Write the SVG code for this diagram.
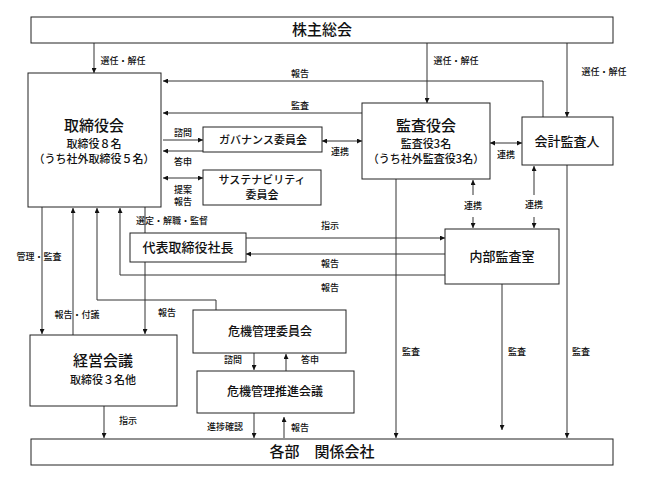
<svg xmlns="http://www.w3.org/2000/svg" width="645" height="483" viewBox="0 0 645 483">
<defs>
<marker id="ah" viewBox="0 0 10 10" refX="10" refY="5" markerWidth="5" markerHeight="5" orient="auto-start-reverse" markerUnits="userSpaceOnUse">
<path d="M0,0 L10,5 L0,10 z" fill="#111"/>
</marker>
<style>
.b{fill:#fff;stroke:#222;stroke-width:1}
.l{fill:none;stroke:#333;stroke-width:1}
.a{fill:none;stroke:#333;stroke-width:1;marker-end:url(#ah)}
.d{fill:none;stroke:#333;stroke-width:1;marker-start:url(#ah);marker-end:url(#ah)}
text{font-family:"Noto Sans CJK JP","Noto Sans CJK SC",sans-serif;fill:#111;text-anchor:middle;font-weight:500}
.t{font-size:15px}
.m{font-size:13px}
.s{font-size:11px}
.n{font-size:12px}
.lb{font-size:9px}
</style>
</defs>
<g id="connectors">
<path class="a" d="M94,43 V73"/>
<path class="a" d="M427,43 V103"/>
<path class="a" d="M567,43 V117"/>
<path class="a" d="M543,117 V81 H163"/>
<path class="a" d="M362,113 H163"/>
<path class="a" d="M163,140 H203"/>
<path class="a" d="M203,151 H163"/>
<path class="d" d="M163,178 H203"/>
<path class="d" d="M322,141 H362"/>
<path class="d" d="M490,143 H522"/>
<path class="a" d="M473,195 V180"/>
<path class="a" d="M473,217 V228"/>
<path class="a" d="M534,195 V166"/>
<path class="a" d="M534,217 V228"/>
<path class="a" d="M246,238 H445"/>
<path class="a" d="M445,254 H246"/>
<path class="a" d="M445,275 H120 V208"/>
<path class="a" d="M42,207 V334"/>
<path class="a" d="M73,335 V208"/>
<path class="a" d="M216,310 V300 H97 V208"/>
<path class="a" d="M145,207 V334"/>
<path class="a" d="M104,406 V438"/>
<path class="a" d="M254,353 V370"/>
<path class="a" d="M286,371 V354"/>
<path class="a" d="M254,413 V438"/>
<path class="a" d="M284,438 V417"/>
<path class="a" d="M396,179 V438"/>
<path class="a" d="M502,284 V430"/>
<path class="a" d="M567,165 V438"/>
</g>
<g id="kabunushi"><rect class="b" x="31" y="17" width="582" height="26"/><text class="t" x="322" y="35">株主総会</text></g>
<g id="torishimariyakukai"><rect class="b" x="28" y="73" width="133" height="134"/>
<text class="t" x="94" y="131">取締役会</text>
<text class="s" x="94" y="148">取締役８名</text>
<text class="s" x="94" y="163">（うち社外取締役５名）</text></g>
<g id="governance"><rect class="b" x="203" y="127" width="119" height="25"/><text class="s" x="263" y="144">ガバナンス委員会</text></g>
<g id="sustainability"><rect class="b" x="203" y="170" width="118" height="35"/><text class="s" x="262" y="184">サステナビリティ</text><text class="s" x="262" y="199">委員会</text></g>
<g id="kansayakukai"><rect class="b" x="362" y="103" width="128" height="76"/>
<text class="t" x="426" y="131">監査役会</text>
<text class="s" x="426" y="148">監査役3名</text>
<text class="s" x="426" y="163">（うち社外監査役3名）</text></g>
<g id="kaikei"><rect class="b" x="522" y="117" width="91" height="48"/><text class="m" x="567" y="146">会計監査人</text></g>
<g id="daihyo"><rect class="b" x="130" y="233" width="116" height="29"/><text class="m" x="188" y="252">代表取締役社長</text></g>
<g id="naibu"><rect class="b" x="445" y="229" width="114" height="55"/><text class="m" x="502" y="261">内部監査室</text></g>
<g id="keiei"><rect class="b" x="30" y="335" width="147" height="71"/>
<text class="t" x="103" y="366">経営会議</text>
<text class="s" x="103" y="384">取締役３名他</text></g>
<g id="kiki"><rect class="b" x="193" y="310" width="153" height="43"/><text class="n" x="270" y="336">危機管理委員会</text></g>
<g id="kikisuishin"><rect class="b" x="197" y="371" width="157" height="42"/><text class="n" x="275" y="396">危機管理推進会議</text></g>
<g id="kakubu"><rect class="b" x="31" y="439" width="582" height="26"/><text class="t" x="322" y="457">各部　関係会社</text></g>
<g id="labels">
<text class="lb" x="123" y="64">選任・解任</text>
<text class="lb" x="456" y="64">選任・解任</text>
<text class="lb" x="604" y="75">選任・解任</text>
<text class="lb" x="300" y="77">報告</text>
<text class="lb" x="300" y="109">監査</text>
<text class="lb" x="183" y="136">諮問</text>
<text class="lb" x="183" y="165">答申</text>
<text class="lb" x="183" y="193">提案</text>
<text class="lb" x="183" y="205">報告</text>
<text class="lb" x="340" y="155">連携</text>
<text class="lb" x="506" y="158">連携</text>
<text class="lb" x="473" y="209">連携</text>
<text class="lb" x="534" y="208">連携</text>
<text class="lb" x="172" y="224">選定・解職・監督</text>
<text class="lb" x="330" y="229">指示</text>
<text class="lb" x="330" y="267">報告</text>
<text class="lb" x="330" y="291">報告</text>
<text class="lb" x="39" y="260">管理・監査</text>
<text class="lb" x="77" y="318">報告・付議</text>
<text class="lb" x="167" y="316">報告</text>
<text class="lb" x="128" y="424">指示</text>
<text class="lb" x="233" y="363">諮問</text>
<text class="lb" x="310" y="363">答申</text>
<text class="lb" x="225" y="430">進捗確認</text>
<text class="lb" x="300" y="431">報告</text>
<text class="lb" x="411" y="355">監査</text>
<text class="lb" x="517" y="355">監査</text>
<text class="lb" x="581" y="355">監査</text>
</g>
</svg>
